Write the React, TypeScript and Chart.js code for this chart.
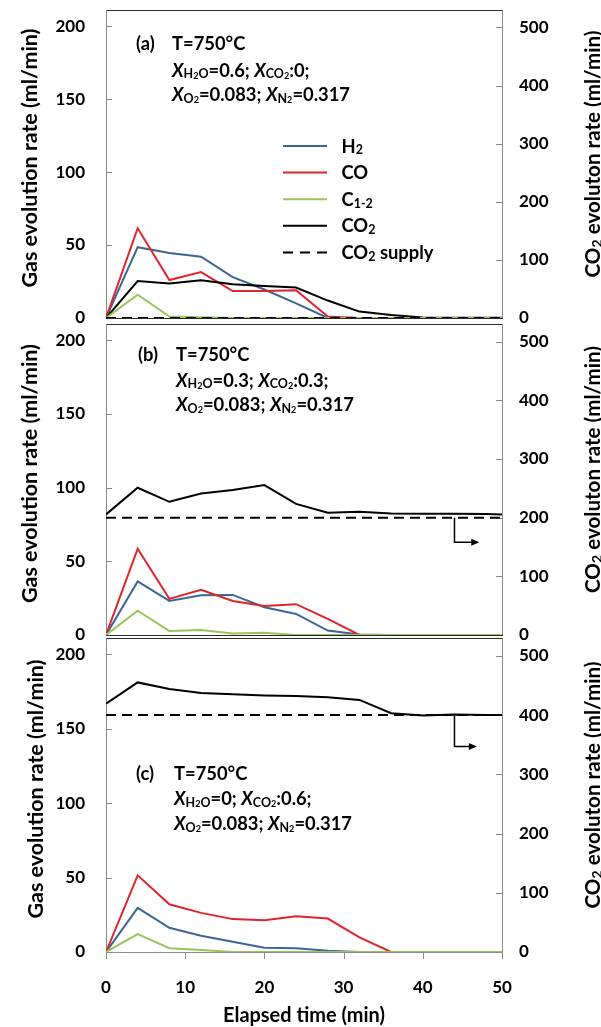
import React, { useEffect, useRef } from 'react';
import { Chart, registerables } from 'chart.js';

Chart.register(...registerables);

// ---------------- data ----------------
const TIME = [0, 4, 8, 12, 16, 20, 24, 28, 32, 36, 40, 44, 48, 50];
const GAS_TICKS = [0, 50, 100, 150, 200];
const CO2_TICKS = [0, 100, 200, 300, 400, 500];
const TIME_TICKS = [0, 10, 20, 30, 40, 50];

// panel (a)
const H2_A = [0, 48.5, 44.5, 42, 28, 19.5, 10, 0, 0, 0, 0, 0, 0, 0];
const CO_A = [0, 61.5, 26, 31.5, 18.5, 18.5, 19, 1, 0, 0, 0, 0, 0, 0];
const C12_A = [0, 16, 1, 0.5, 0, 0, 0, 0, 0, 0, 0, 0, 0, 0];
const CO2_A = [0, 63.5, 59.5, 65, 58, 55, 52.5, 30, 11, 5, 1, 0.5, 0.5, 0.5];
const SUP_A = [0, 0, 0, 0, 0, 0, 0, 0, 0, 0, 0, 0, 0, 0];

// panel (b)
const H2_B = [0, 36.3, 23.1, 27, 27.2, 18.8, 14.3, 3, 0.3, 0, 0, 0, 0, 0];
const CO_B = [0, 58.5, 24.5, 30.6, 23.1, 19.7, 20.9, 10.9, 0, 0, 0, 0, 0, 0];
const C12_B = [0, 16.5, 2.7, 3.4, 1.1, 1.6, 0, 0, 0, 0, 0, 0, 0, 0];
const CO2_B = [205.5, 251, 227, 241, 247, 255.5, 223.5, 208.5, 210, 207, 206.5, 206.5, 206, 205.5];
const SUP_B = [200, 200, 200, 200, 200, 200, 200, 200, 200, 200, 200, 200, 200, 200];

// panel (c)
const H2_C = [0, 29.6, 16.3, 10.9, 6.9, 2.9, 2.5, 0.9, 0, 0, 0, 0, 0, 0];
const CO_C = [0, 51.5, 32.1, 26.3, 22.1, 21.4, 24.1, 22.5, 9.8, 0, 0, 0, 0, 0];
const C12_C = [0, 12, 2.5, 1.3, 0, 0, 0, 0, 0, 0, 0, 0, 0, 0];
const CO2_C = [419, 455, 444, 437, 435, 433, 432, 430, 425.5, 403, 399, 401, 400, 400];
const SUP_C = [400, 400, 400, 400, 400, 400, 400, 400, 400, 400, 400, 400, 400, 400];

// arrows pointing to the right axis: [time, CO2 rate]
const ARROW_B = [[44, 200], [44, 158], [47, 158]];
const ARROW_C = [[44, 400], [44, 347], [46.7, 347]];

// ---------------- style ----------------
const FONT = "Lato, 'Open Sans', 'DejaVu Sans', sans-serif";
const BLUE = '#3b6595';
const RED = '#e0242b';
const GREEN = '#96c65a';
const BLACK = '#000000';
const GREY = '#8a8a8a';
const DASH = [10, 6];

type Kind = 'n' | 'i' | 's' | 'ss';
type Seg = [string, Kind?];

function segStyle(kind: Kind, size: number) {
  switch (kind) {
    case 'i':
      return { font: `italic bold ${size.toFixed(2)}px ${FONT}`, dy: 0 };
    case 's':
      return { font: `bold ${(size * 0.68).toFixed(2)}px ${FONT}`, dy: size * 0.1 };
    case 'ss':
      return { font: `bold ${(size * 0.5).toFixed(2)}px ${FONT}`, dy: size * 0.14 };
    default:
      return { font: `bold ${size.toFixed(2)}px ${FONT}`, dy: 0 };
  }
}

function richWidth(ctx: CanvasRenderingContext2D, segs: Seg[], size: number) {
  let w = 0;
  for (const [t, k = 'n'] of segs) {
    ctx.font = segStyle(k, size).font;
    w += ctx.measureText(t).width;
  }
  return w;
}

// font size that makes a text run as long as it is in the reference
function fitSize(ctx: CanvasRenderingContext2D, segs: Seg[], target: number) {
  const base = 20;
  return (base * target) / richWidth(ctx, segs, base);
}

function drawRich(
  ctx: CanvasRenderingContext2D,
  segs: Seg[],
  x: number,
  cy: number,
  size: number,
  align: 'left' | 'center' = 'left'
) {
  const base = cy + size * 0.36;
  let cx = align === 'center' ? x - richWidth(ctx, segs, size) / 2 : x;
  ctx.textAlign = 'left';
  ctx.textBaseline = 'alphabetic';
  ctx.fillStyle = '#000';
  for (const [t, k = 'n'] of segs) {
    const st = segStyle(k, size);
    ctx.font = st.font;
    ctx.fillText(t, cx, base + st.dy);
    cx += ctx.measureText(t).width;
  }
}

const LINE2_A: Seg[] = [['X', 'i'], ['H', 's'], ['2', 'ss'], ['O', 's'], ['=0.6; '], ['X', 'i'], ['CO', 's'], ['2', 'ss'], [':0;']];
const LINE2_B: Seg[] = [['X', 'i'], ['H', 's'], ['2', 'ss'], ['O', 's'], ['=0.3; '], ['X', 'i'], ['CO', 's'], ['2', 'ss'], [':0.3;']];
const LINE2_C: Seg[] = [['X', 'i'], ['H', 's'], ['2', 'ss'], ['O', 's'], ['=0; '], ['X', 'i'], ['CO', 's'], ['2', 'ss'], [':0.6;']];
const LINE3: Seg[] = [['X', 'i'], ['O', 's'], ['2', 'ss'], ['=0.083; '], ['X', 'i'], ['N', 's'], ['2', 'ss'], ['=0.317']];
const TEMP: Seg[] = [['T=750°C']];

const LEGEND_LABELS: Seg[][] = [
  [['H'], ['2', 's']],
  [['CO']],
  [['C'], ['1-2', 's']],
  [['CO'], ['2', 's']],
  [['CO'], ['2', 's'], [' supply']],
];

const LEFT_TITLE: Seg[] = [['Gas evolution rate (ml/min)']];
const RIGHT_TITLE: Seg[] = [['CO'], ['2', 's'], [' evoluton rate (ml/min)']];
const X_TITLE: Seg[] = [['Elapsed time (min)']];

interface PanelSpec {
  top: number;
  height: number;
  xAxisHeight: number;
  h2: number[];
  co: number[];
  c12: number[];
  co2: number[];
  sup: number[];
  tag: string;
  line2: Seg[];
  textX: number;
  tX: number;
  textY: number[];
  legend: boolean;
  arrow: number[][] | null;
  showX: boolean;
  bottomColor: string;
  leftTitleX: number;
}

const PANELS: PanelSpec[] = [
  {
    top: 0, height: 330, xAxisHeight: 12,
    h2: H2_A, co: CO_A, c12: C12_A, co2: CO2_A, sup: SUP_A,
    tag: '(a)', line2: LINE2_A, textX: 30, tX: 66, textY: [33.3, 60, 84.3],
    legend: true, arrow: null, showX: false, bottomColor: '#2a2a2a', leftTitleX: 29,
  },
  {
    top: 314, height: 330, xAxisHeight: 9,
    h2: H2_B, co: CO_B, c12: C12_B, co2: CO2_B, sup: SUP_B,
    tag: '(b)', line2: LINE2_B, textX: 32, tX: 70, textY: [30.3, 56, 80.3],
    legend: false, arrow: ARROW_B, showX: false, bottomColor: '#2a2a2a', leftTitleX: 29,
  },
  {
    top: 628, height: 399, xAxisHeight: 75,
    h2: H2_C, co: CO_C, c12: C12_C, co2: CO2_C, sup: SUP_C,
    tag: '(c)', line2: LINE2_C, textX: 30, tX: 68, textY: [135.3, 160.3, 185.3],
    legend: false, arrow: ARROW_C, showX: true, bottomColor: GREY, leftTitleX: 35,
  },
];

function hline(ctx: CanvasRenderingContext2D, x1: number, x2: number, y: number, color: string, w = 1) {
  ctx.strokeStyle = color;
  ctx.lineWidth = w;
  ctx.setLineDash([]);
  ctx.beginPath();
  ctx.moveTo(x1, Math.round(y) + 0.5);
  ctx.lineTo(x2, Math.round(y) + 0.5);
  ctx.stroke();
}
function vline(ctx: CanvasRenderingContext2D, x: number, y1: number, y2: number, color: string, w = 1) {
  ctx.strokeStyle = color;
  ctx.lineWidth = w;
  ctx.setLineDash([]);
  ctx.beginPath();
  ctx.moveTo(Math.round(x) + 0.5, y1);
  ctx.lineTo(Math.round(x) + 0.5, y2);
  ctx.stroke();
}

function makeChart(canvas: HTMLCanvasElement, spec: PanelSpec) {
  const ds = (label: string, data: number[], color: string, axis: string, order: number, dash: number[] = []) => ({
    label,
    data: TIME.map((t, i) => ({ x: t, y: data[i] })),
    borderColor: color,
    backgroundColor: color,
    borderWidth: 2,
    borderDash: dash,
    pointRadius: 0,
    tension: 0,
    fill: false,
    yAxisID: axis,
    order,
  });

  const decor = {
    id: 'decor',
    beforeDatasetsDraw(chart: any) {
      const { ctx, chartArea: a, scales } = chart;
      ctx.save();
      hline(ctx, a.left, a.right + 1, a.top, '#2a2a2a');
      vline(ctx, a.left, a.top, a.bottom + 1, GREY);
      vline(ctx, a.right, a.top, a.bottom + 1, GREY);
      hline(ctx, a.left, a.right + 1, a.bottom, spec.bottomColor);
      for (const v of GAS_TICKS) {
        const y = scales.y.getPixelForValue(v);
        if (v > 0) hline(ctx, a.left, a.left + 6, y, GREY);
      }
      for (const v of CO2_TICKS) {
        const y = scales.y2.getPixelForValue(v);
        if (v > 0) hline(ctx, a.right - 6, a.right + 1, y, GREY);
      }
      if (spec.showX) {
        for (const v of TIME_TICKS) {
          const x = scales.x.getPixelForValue(v);
          vline(ctx, x, a.bottom, a.bottom + 7, GREY);
        }
      }
      ctx.restore();
    },
    afterDatasetsDraw(chart: any) {
      const { ctx, chartArea: a, scales } = chart;
      ctx.save();
      const size = fitSize(ctx, LINE3, 178);
      drawRich(ctx, [[spec.tag]], a.left + spec.textX, a.top + spec.textY[0], size);
      drawRich(ctx, TEMP, a.left + spec.tX, a.top + spec.textY[0], size);
      drawRich(ctx, spec.line2, a.left + spec.tX, a.top + spec.textY[1], size);
      drawRich(ctx, LINE3, a.left + spec.tX, a.top + spec.textY[2], size);

      if (spec.legend) {
        const dsets = chart.data.datasets;
        const lsize = fitSize(ctx, LEGEND_LABELS[4], 92);
        LEGEND_LABELS.forEach((lab, i) => {
          const y = a.top + 136 + i * 26.6;
          const d = dsets[i];
          ctx.strokeStyle = d.borderColor;
          ctx.lineWidth = 2;
          ctx.setLineDash(d.borderDash && d.borderDash.length ? [10, 7] : []);
          ctx.beginPath();
          ctx.moveTo(a.left + 177, y);
          ctx.lineTo(a.left + 221, y);
          ctx.stroke();
          ctx.setLineDash([]);
          drawRich(ctx, lab, a.left + 235.5, y, lsize);
        });
      }

      if (spec.arrow) {
        const pts = spec.arrow.map(([t, v]) => [scales.x.getPixelForValue(t), scales.y2.getPixelForValue(v)]);
        ctx.strokeStyle = '#000';
        ctx.lineWidth = 1.5;
        ctx.setLineDash([]);
        ctx.beginPath();
        ctx.moveTo(pts[0][0], pts[0][1]);
        for (let i = 1; i < pts.length; i++) ctx.lineTo(pts[i][0] - (i === pts.length - 1 ? 4 : 0), pts[i][1]);
        ctx.stroke();
        const [ex, ey] = pts[pts.length - 1];
        ctx.fillStyle = '#000';
        ctx.beginPath();
        ctx.moveTo(ex + 1, ey);
        ctx.lineTo(ex - 7, ey - 3.5);
        ctx.lineTo(ex - 7, ey + 3.5);
        ctx.closePath();
        ctx.fill();
      }

      // axis titles
      const mid = (a.top + a.bottom) / 2;
      const ltSize = fitSize(ctx, LEFT_TITLE, 259);
      ctx.save();
      ctx.translate(spec.leftTitleX, mid - 6);
      ctx.rotate(-Math.PI / 2);
      drawRich(ctx, LEFT_TITLE, 0, 0, ltSize, 'center');
      ctx.restore();
      const rtSize = fitSize(ctx, RIGHT_TITLE, 247);
      ctx.save();
      ctx.translate(593, mid - 10);
      ctx.rotate(-Math.PI / 2);
      drawRich(ctx, RIGHT_TITLE, 0, 0, rtSize, 'center');
      ctx.restore();
      if (spec.showX) {
        const xtSize = fitSize(ctx, X_TITLE, 162);
        drawRich(ctx, X_TITLE, (a.left + a.right) / 2, a.bottom + 63, xtSize, 'center');
      }
      ctx.restore();
    },
  };

  const tickFont = { family: FONT, size: 17, weight: 'bold' as const };

  return new Chart(canvas, {
    type: 'line',
    data: {
      datasets: [
        ds('H2', spec.h2, BLUE, 'y', 3),
        ds('CO', spec.co, RED, 'y', 2),
        ds('C1-2', spec.c12, GREEN, 'y', 1),
        ds('CO2', spec.co2, BLACK, 'y2', 1),
        ds('CO2 supply', spec.sup, BLACK, 'y2', 0, DASH),
      ] as any,
    },
    options: {
      animation: false,
      responsive: false,
      devicePixelRatio: 1,
      layout: { padding: { top: 10, left: 0, right: 0, bottom: 0 } },
      plugins: { legend: { display: false }, tooltip: { enabled: false } },
      scales: {
        x: {
          type: 'linear',
          min: 0,
          max: 50,
          afterBuildTicks: (s: any) => {
            s.ticks = TIME_TICKS.map((v) => ({ value: v }));
          },
          ticks: { display: spec.showX, color: '#000', font: tickFont, padding: 25, maxRotation: 0 },
          grid: { display: false, drawTicks: false },
          border: { display: false },
          afterFit: (s: any) => {
            s.height = spec.xAxisHeight;
            s.paddingLeft = 0;
            s.paddingRight = 0;
          },
        },
        y: {
          position: 'left',
          min: 0,
          max: 211,
          afterBuildTicks: (s: any) => {
            s.ticks = GAS_TICKS.map((v) => ({ value: v }));
          },
          ticks: { color: '#000', font: tickFont, padding: 21 },
          grid: { display: false, drawTicks: false },
          border: { display: false },
          afterFit: (s: any) => {
            s.width = 106;
            s.paddingTop = 0;
            s.paddingBottom = 0;
          },
        },
        y2: {
          position: 'right',
          min: 0,
          max: 530,
          afterBuildTicks: (s: any) => {
            s.ticks = CO2_TICKS.map((v) => ({ value: v }));
          },
          ticks: { color: '#000', font: tickFont, padding: 17 },
          grid: { display: false, drawTicks: false },
          border: { display: false },
          afterFit: (s: any) => {
            s.width = 99;
            s.paddingTop = 0;
            s.paddingBottom = 0;
          },
        },
      },
    } as any,
    plugins: [decor],
  });
}

function Panel({ spec }: { spec: PanelSpec }) {
  const ref = useRef<HTMLCanvasElement>(null);
  useEffect(() => {
    if (!ref.current) return;
    const chart = makeChart(ref.current, spec);
    return () => chart.destroy();
  }, [spec]);
  return (
    <canvas
      ref={ref}
      width={601}
      height={spec.height}
      style={{ position: 'absolute', left: 0, top: spec.top, width: 601, height: spec.height, display: 'block' }}
    />
  );
}

export default function App() {
  return (
    <div style={{ position: 'absolute', left: 0, top: 0, width: 601, height: 1027, background: '#fff', overflow: 'hidden' }}>
      {PANELS.map((p, i) => (
        <Panel key={i} spec={p} />
      ))}
    </div>
  );
}
